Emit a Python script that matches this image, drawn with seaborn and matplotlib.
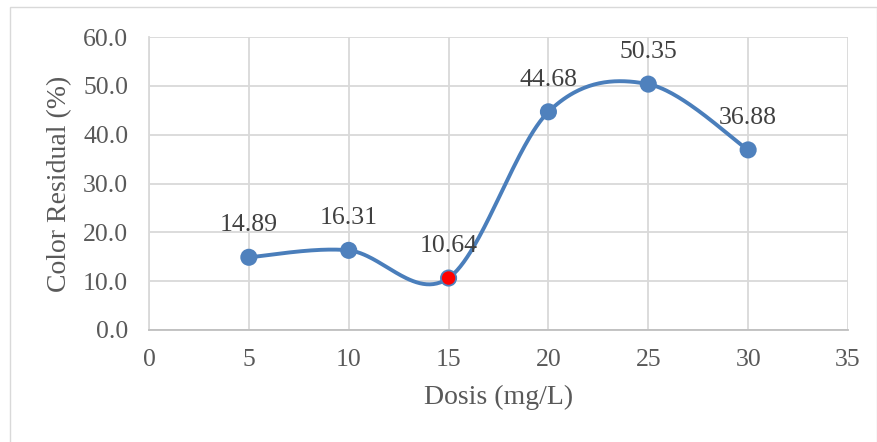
import numpy as np
import pandas as pd
import matplotlib
matplotlib.use("Agg")
import matplotlib.pyplot as plt
import seaborn as sns
from matplotlib.patches import Rectangle

dosis = [5, 10, 15, 20, 25, 30]
residual = [14.89, 16.31, 10.64, 44.68, 50.35, 36.88]
labels = ["14.89", "16.31", "10.64", "44.68", "50.35", "36.88"]
highlight_index = 2
x_ticks = [0, 5, 10, 15, 20, 25, 30, 35]
y_ticks = [0, 10, 20, 30, 40, 50, 60]

sns.set_theme(style="white")
plt.rcParams['font.family'] = ['Liberation Serif', 'DejaVu Serif']

TEXT = "#595959"
LINE = "#4a7ebb"
FACE = "#4f81bd"

# Excel-like smoothed line (Catmull-Rom style cubic Bezier through the points)
P = np.column_stack([dosis, residual]).astype(float)
n = len(P)
curve = []
t = np.linspace(0, 1, 60)
for i in range(n - 1):
    p0 = P[i - 1] if i > 0 else P[i]
    p1 = P[i]
    p2 = P[i + 1]
    p3 = P[i + 2] if i + 2 < n else P[i + 1]
    c1 = p1 + (p2 - p0) / 6.0
    c2 = p2 - (p3 - p1) / 6.0
    tt = t[:, None]
    seg = ((1 - tt) ** 3) * p1 + 3 * ((1 - tt) ** 2) * tt * c1 + 3 * (1 - tt) * tt ** 2 * c2 + tt ** 3 * p2
    curve.append(seg if i == 0 else seg[1:])
curve = np.vstack(curve)
curve_df = pd.DataFrame({"x": curve[:, 0], "y": curve[:, 1]})

fig = plt.figure(figsize=(8.78, 4.42), dpi=100)
fig.patches.append(Rectangle((10 / 878, -0.01), 0.999 - 10 / 878, 1 - 7 / 442 + 0.01,
                             transform=fig.transFigure, fill=False,
                             edgecolor="#d9d9d9", linewidth=1.0))
ax = fig.add_axes([149 / 878, 1 - 330 / 442, (848 - 149) / 878, (330 - 37) / 442])

sns.lineplot(data=curve_df, x="x", y="y", ax=ax, color=LINE, linewidth=2.8,
             sort=False, estimator=None, zorder=3)
colors = [("#ff0000" if i == highlight_index else FACE) for i in range(n)]
ax.scatter(dosis, residual, s=11 ** 2, c=colors, edgecolors=FACE, linewidths=1.3, zorder=4)

for xv, yv, lab in zip(dosis, residual, labels):
    ax.annotate(lab, (xv, yv), xytext=(0, 32), textcoords="offset pixels",
                ha="center", va="center", fontsize=18.5, color="#404040")

ax.set_xlim(0, 35)
ax.set_ylim(0, 60)
ax.set_xticks(x_ticks)
ax.set_yticks(y_ticks)
ax.set_xticklabels([str(v) for v in x_ticks])
ax.set_yticklabels([f"{v:.1f}" for v in y_ticks])
ax.grid(True, color="#d9d9d9", linewidth=1.3)
ax.set_axisbelow(True)
for s in ["top", "right"]:
    ax.spines[s].set_visible(False)
ax.spines["left"].set_color("#d9d9d9")
ax.spines["left"].set_linewidth(1.3)
ax.spines["bottom"].set_color("#bfbfbf")
ax.spines["bottom"].set_linewidth(1.3)
ax.tick_params(axis="both", length=0, labelsize=18.5, labelcolor=TEXT)
ax.tick_params(axis="x", pad=14)
ax.tick_params(axis="y", pad=15)
ax.set_xlabel("Dosis (mg/L)", fontsize=20, color=TEXT, labelpad=10)
ax.set_ylabel("Color Residual (%)", fontsize=20, color=TEXT, labelpad=8)

fig.savefig("out.png", dpi=100)
